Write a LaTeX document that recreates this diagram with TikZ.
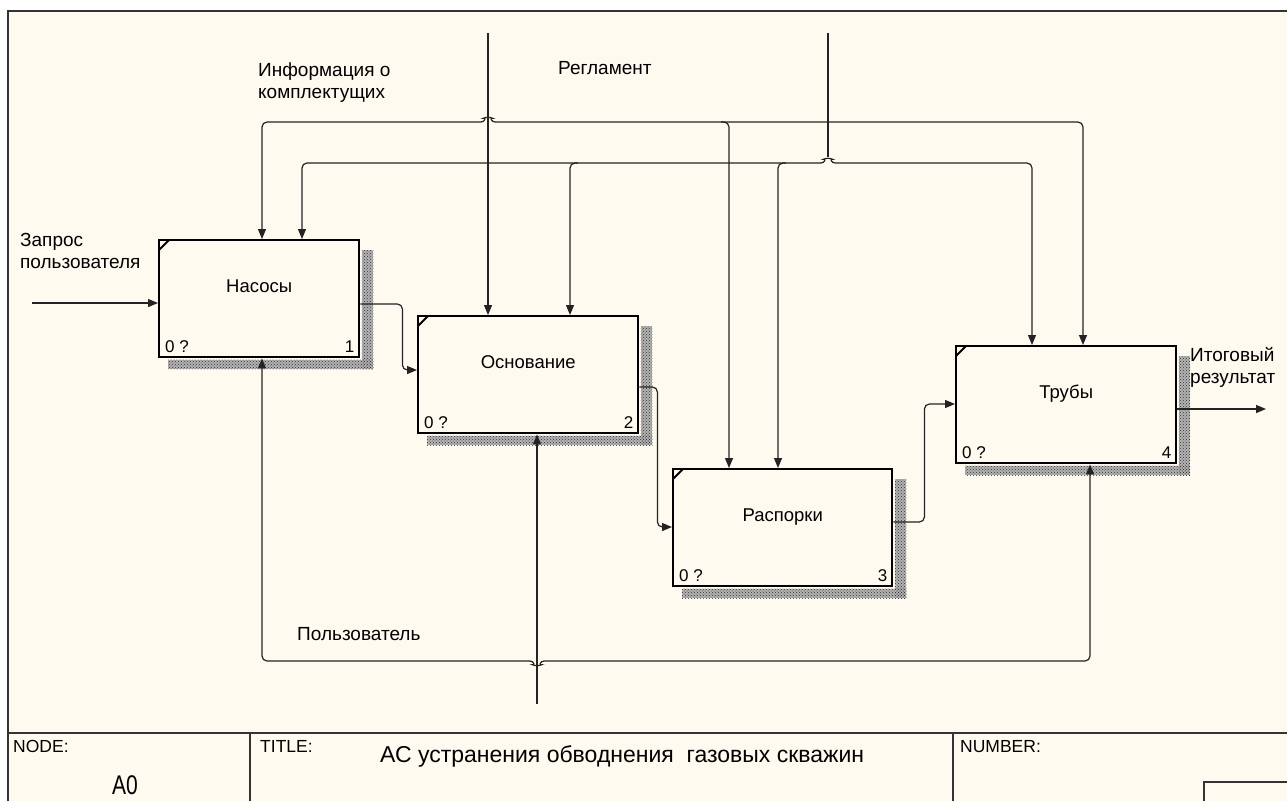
\documentclass[tikz,border=0pt]{standalone}
\usepackage{fontspec}
\setmainfont{Liberation Sans}
\usetikzlibrary{arrows.meta,patterns,calc}
\definecolor{paper}{RGB}{255,250,240}
\definecolor{ink}{RGB}{35,35,35}
\begin{document}
\begin{tikzpicture}[x=1pt,y=-1pt,
  box/.style={draw=black, line width=2.4pt, fill=paper, inner sep=0pt, anchor=north west, minimum height=117pt, minimum width=#1},
  boxname/.style={font=\fontsize{18.5}{21}\selectfont, inner sep=0pt, anchor=base},
  corner/.style={font=\fontsize{17}{20}\selectfont, inner sep=0pt},
  conn/.style={draw=ink, line width=1.2pt, rounded corners=5pt},
  arr/.style={conn, -{Triangle[length=10pt,width=8pt]}},
  lbl/.style={font=\fontsize{19}{22}\selectfont, inner sep=0pt, anchor=north west, align=left},
  shadowfill/.style={pattern=crosshatch dots, pattern color=black!80},
  shadowbase/.style={fill=black!30},
  frame/.style={draw=black!80, line width=1.2pt},
  small/.style={font=\fontsize{17.5}{20}\selectfont, inner sep=0pt, anchor=north west},
  tick/.style={draw=black, line width=1.8pt},
]
% background and frame
\fill[white] (0,0) rectangle (1287,801);
\fill[paper] (8,11) rectangle (1287,801);
\useasboundingbox (0,0) rectangle (1287,801);
\draw[frame] (8,801) -- (8,11) -- (1287,11);
\draw[frame] (8,733) -- (1287,733);
\draw[frame] (250,733) -- (250,801);
\draw[frame] (953,733) -- (953,801);
\draw[frame] (1204,801) -- (1204,782) -- (1287,782);

% boxes
\node[box=200pt] (b1) at (158,239) {};
\node[box=220pt] (b2) at (417,315) {};
\node[box=219pt] (b3) at (672,468) {};
\node[box=220pt] (b4) at (955,345) {};

\foreach \b in {b1,b2,b3,b4}{
  \fill[shadowbase] ($(\b.north east)+(1.5,11)$) rectangle ($(\b.south east)+(13,11)$);
  \fill[shadowbase] ($(\b.south west)+(10,1.5)$) rectangle ($(\b.south east)+(13,11)$);
  \fill[shadowfill] ($(\b.north east)+(1.5,11)$) rectangle ($(\b.south east)+(13,11)$);
  \fill[shadowfill] ($(\b.south west)+(10,1.5)$) rectangle ($(\b.south east)+(13,11)$);
  \draw[tick] ($(\b.north west)+(1,11)$) -- ($(\b.north west)+(11,1)$);
}

\node[boxname] (t1) at ($(b1.north)+(0,53)$) {Насосы};
\node[boxname] (t2) at ($(b2.north)+(0,53)$) {Основание};
\node[boxname] (t3) at ($(b3.north)+(0,53)$) {Распорки};
\node[boxname] (t4) at ($(b4.north)+(0,53)$) {Трубы};

\node[corner, anchor=base west] (q1) at ($(b1.south west)+(7,-6)$) {0 ?};
\node[corner, anchor=base west] (q2) at ($(b2.south west)+(7,-6)$) {0 ?};
\node[corner, anchor=base west] (q3) at ($(b3.south west)+(7,-6)$) {0 ?};
\node[corner, anchor=base west] (q4) at ($(b4.south west)+(7,-6)$) {0 ?};
\node[corner, anchor=base east] (k1) at ($(b1.south east)+(-6,-6)$) {1};
\node[corner, anchor=base east] (k2) at ($(b2.south east)+(-6,-6)$) {2};
\node[corner, anchor=base east] (k3) at ($(b3.south east)+(-6,-6)$) {3};
\node[corner, anchor=base east] (k4) at ($(b4.south east)+(-6,-6)$) {4};

% input / output
\coordinate (inS) at (32,303);
\coordinate (outE) at (1266,409);
\draw[arr] (inS) -- (inS -| b1.west);
\draw[arr] (outE -| b4.east) -- (outE);

% box to box
\draw[arr] ($(b1.north east)+(0,65)$) -- ++(42,0) |- ($(b2.north west)+(0,55)$);
\draw[arr] ($(b2.north east)+(0,72)$) -- ++(18,0) |- ($(b3.north west)+(0,59)$);
\draw[arr] ($(b3.north east)+(0,54)$) -- ++(31,0) |- ($(b4.north west)+(0,59)$);

% controls: Информация о комплектущих
\coordinate (infoTop) at (488,33);
\coordinate (fA) at (488,122);
\coordinate (d1a) at ($(b1.north west)+(104,0)$);
\coordinate (d3a) at ($(b3.north west)+(57,0)$);
\coordinate (d4a) at ($(b4.north west)+(128,0)$);
\draw[arr] (infoTop) -- (infoTop |- b2.north);
\draw[conn] ($(fA)+(-7,0)$) .. controls ($(fA)+(-3,0)$) and ($(fA)+(-2,-5)$) .. ($(fA)+(0,-6)$)
            .. controls ($(fA)+(2,-5)$) and ($(fA)+(3,0)$) .. ($(fA)+(7,0)$);
\draw[arr] ($(fA)+(-7,0)$) -| (d1a);
\draw[arr] ($(fA)+(7,0)$) -| (d4a);
\draw[arr] ($(d3a |- fA)+(-8,0)$) -| (d3a);

% controls: Регламент
\coordinate (regTop) at (828,33);
\coordinate (fB) at (828,163);
\coordinate (d1b) at ($(b1.north west)+(144,0)$);
\coordinate (d2b) at ($(b2.north west)+(153,0)$);
\coordinate (d3b) at ($(b3.north west)+(106,0)$);
\coordinate (d4b) at ($(b4.north west)+(77,0)$);
\draw[conn] (regTop) -- ($(fB)+(0,-6)$);
\draw[conn] ($(fB)+(-7,0)$) .. controls ($(fB)+(-3,0)$) and ($(fB)+(-2,-5)$) .. ($(fB)+(0,-6)$)
            .. controls ($(fB)+(2,-5)$) and ($(fB)+(3,0)$) .. ($(fB)+(7,0)$);
\draw[arr] ($(fB)+(-7,0)$) -| (d1b);
\draw[arr] ($(fB)+(7,0)$) -| (d4b);
\draw[arr] ($(d2b |- fB)+(8,0)$) -| (d2b);
\draw[arr] ($(d3b |- fB)+(8,0)$) -| (d3b);

% mechanism: Пользователь
\coordinate (userBot) at (537,704);
\coordinate (fC) at (537,661);
\coordinate (u1) at ($(b1.south west)+(104,0)$);
\coordinate (u4) at ($(b4.south west)+(135,0)$);
\draw[arr] (userBot) -- (userBot |- b2.south);
\draw[conn] ($(fC)+(-7,0)$) .. controls ($(fC)+(-3,0)$) and ($(fC)+(-2,5)$) .. ($(fC)+(0,6)$)
            .. controls ($(fC)+(2,5)$) and ($(fC)+(3,0)$) .. ($(fC)+(7,0)$);
\draw[arr] ($(fC)+(-7,0)$) -| (u1);
\draw[arr] ($(fC)+(7,0)$) -| (u4);

% labels
\node[lbl] (lIn) at (20,233) {Запрос\\пользователя};
\node[lbl] (lInfo) at (258,63) {Информация о\\комплектущих};
\node[lbl] (lReg) at (558,61) {Регламент};
\node[lbl] (lOut) at (1190,347) {Итоговый\\результат};
\node[lbl] (lUser) at (297,627) {Пользователь};

% title block
\node[small] (tNode) at (13,740) {NODE:};
\node[small] (tTitle) at (260,740) {TITLE:};
\node[small] (tNum) at (960,740) {NUMBER:};
\node[font=\fontsize{27}{29}\selectfont, inner sep=0pt, anchor=base west, xscale=0.78] (tA0) at (112,794) {A0};
\node[font=\fontsize{23}{25}\selectfont, inner sep=0pt, anchor=base west] (tMain) at (380,762) {АС устранения обводнения~ газовых скважин};
\end{tikzpicture}
\end{document}
